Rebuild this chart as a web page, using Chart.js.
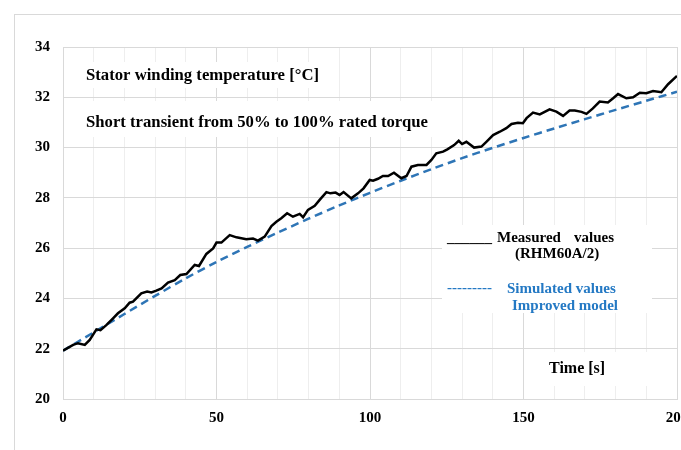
<!DOCTYPE html>
<html>
<head>
<meta charset="utf-8">
<script src="https://cdn.jsdelivr.net/npm/chart.js@4.4.1/dist/chart.umd.min.js"></script>
<style>
  html, body { margin: 0; padding: 0; background: #fff; }
  canvas { display: block; }
</style>
</head>
<body>
<canvas id="statorChart" width="681" height="450"></canvas>
<script>
// measured stator winding temperature (black line)
const measuredTime = [
  0, 3.3, 4.9, 7.1, 8.7, 10.9, 12.2, 14.1, 16.3, 17.9, 20.1, 21.7, 22.8, 25.5, 27.4, 28.8,
  30.4, 32.1, 34.2, 36.4, 38.2, 40.2, 42.9, 44.3, 46.7, 48.9, 50, 51.6, 54.3, 56.5, 59.7,
  61.9, 63.5, 65.7, 67.9, 69.5, 71.1, 73, 74.9, 77.1, 78.2, 79.8, 82, 83.6, 85.8, 87.1,
  88.8, 90.1, 91.4, 93.9, 96.1, 97.9, 99.9, 101, 102.6, 104.2, 105.9, 107.8, 110.2, 111.9,
  113.5, 115.6, 118.4, 120, 121.6, 123.8, 125.2, 127.4, 128.9, 130, 131.4, 133.9, 136.3,
  137.9, 140.1, 142.3, 144.4, 146.1, 148.2, 149.8, 151, 153.1, 155.3, 158.5, 160.7, 162.9,
  165, 166.7, 168.9, 170.5, 172.6, 174.8, 177.5, 179.2, 180.8, 183.5, 185.7, 187.9, 190,
  192.2, 194.9, 197.1, 200
];
const measuredTemp = [
  21.92, 22.15, 22.22, 22.15, 22.35, 22.77, 22.74, 22.94, 23.21, 23.41, 23.61, 23.83, 23.87, 24.2, 24.27, 24.24,
  24.31, 24.4, 24.63, 24.73, 24.93, 24.97, 25.33, 25.29, 25.77, 25.99, 26.22, 26.22, 26.52, 26.43, 26.35,
  26.38, 26.3, 26.46, 26.88, 27.05, 27.19, 27.39, 27.25, 27.36, 27.23, 27.52, 27.68, 27.92, 28.23, 28.18,
  28.21, 28.11, 28.23, 27.98, 28.18, 28.38, 28.71, 28.68, 28.76, 28.87, 28.87, 29.0, 28.78, 28.87,
  29.24, 29.31, 29.31, 29.51, 29.77, 29.84, 29.93, 30.1, 30.27, 30.14, 30.23, 30.0, 30.04,
  30.23, 30.5, 30.63, 30.77, 30.94, 30.99, 30.97, 31.17, 31.39, 31.32, 31.52, 31.43, 31.26,
  31.47, 31.47, 31.42, 31.34, 31.56, 31.83, 31.79, 31.96, 32.13, 31.96, 32.0, 32.18, 32.16,
  32.25, 32.2, 32.52, 32.85
];

// simulated values, improved model (blue dashed line)
const simTime = [0, 10, 20, 30, 40, 50, 60, 70, 80, 90, 100, 110, 120, 130, 140, 150, 160, 170, 180, 190, 200];
const simTemp = [
  21.92, 22.65, 23.38, 24.1, 24.8, 25.45, 26.05, 26.62, 27.17, 27.7, 28.2,
  28.68, 29.14, 29.58, 29.99, 30.38, 30.76, 31.13, 31.5, 31.86, 32.22
];

const SERIF = '"Liberation Serif", "Times New Roman", serif';
const BLUE_LINE = '#2e75b6';
const BLUE_TEXT = '#2479c4';

function toPoints(xs, ys) {
  return xs.map((x, i) => ({ x: x, y: ys[i] }));
}

// white boxes + texts drawn inside the plot (cover the gridlines, under the lines)
const annotationPlugin = {
  id: 'annotations',
  beforeDraw(chart) {
    const ctx = chart.ctx;
    ctx.save();
    ctx.fillStyle = '#fff';
    ctx.fillRect(0, 0, chart.width, chart.height);
    // outer frame
    ctx.strokeStyle = '#d9d9d9';
    ctx.lineWidth = 1;
    ctx.strokeRect(14.5, 14.5, 800, 600);
    ctx.restore();
  },
  beforeDatasetsDraw(chart) {
    const ctx = chart.ctx;
    ctx.save();
    ctx.fillStyle = '#fff';
    ctx.fillRect(76, 62, 256, 26);   // title line 1
    ctx.fillRect(76, 101, 366, 36);  // title line 2
    ctx.fillRect(442, 225, 210, 88); // legend
    ctx.fillRect(530, 352, 134, 34); // axis title

    ctx.textBaseline = 'alphabetic';
    ctx.textAlign = 'left';
    ctx.fillStyle = '#000';
    ctx.font = 'bold 16.7px ' + SERIF;
    ctx.fillText('Stator winding temperature [°C]', 86, 80);
    ctx.fillText('Short transient from 50% to 100% rated torque', 86, 127);

    ctx.font = 'bold 15px ' + SERIF;
    ctx.fillText('______', 447, 242);
    ctx.fillText('Measured', 497, 242);
    ctx.fillText('values', 574, 242);
    ctx.fillText('(RHM60A/2)', 515, 257.5);

    ctx.fillStyle = BLUE_TEXT;
    ctx.fillText('---------', 447, 292);
    ctx.fillText('Simulated values', 507, 293);
    ctx.fillText('Improved model', 512, 310);

    ctx.fillStyle = '#000';
    ctx.font = 'bold 16px ' + SERIF;
    ctx.fillText('Time [s]', 549, 373);
    ctx.restore();
  }
};

const statorConfig = {
  type: 'line',
  data: {
    datasets: [
      {
        label: 'Measured values (RHM60A/2)',
        data: toPoints(measuredTime, measuredTemp),
        borderColor: '#000',
        borderWidth: 2.5,
        pointRadius: 0,
        tension: 0,
        fill: false,
      },
      {
        label: 'Simulated values Improved model',
        data: toPoints(simTime, simTemp),
        borderColor: BLUE_LINE,
        borderWidth: 2.5,
        borderDash: [8, 5],
        pointRadius: 0,
        tension: 0.3,
        fill: false,
      },
    ],
  },
  options: {
    responsive: false,
    animation: false,
    layout: { padding: { top: 47, right: 4, left: 0, bottom: 0 } },
    plugins: {
      legend: { display: false },
      title: { display: false },
      tooltip: { enabled: false },
    },
    scales: {
      x: {
        type: 'linear',
        min: 0,
        max: 200,
        border: { color: '#d9d9d9' },
        grid: {
          drawTicks: false,
          color: function (ctx) {
            return ctx.tick && ctx.tick.value % 50 === 0 ? '#d9d9d9' : '#eeeeee';
          },
        },
        ticks: {
          stepSize: 10,
          autoSkip: false,
          maxRotation: 0,
          padding: 10,
          color: '#000',
          font: { family: SERIF, size: 15, weight: 'bold' },
          callback: function (value) {
            return value % 50 === 0 ? value : '';
          },
        },
        afterFit: function (scale) {
          scale.height = 51;
          scale.paddingLeft = 0;
          scale.paddingRight = 0;
        },
      },
      y: {
        min: 20,
        max: 34,
        border: { color: '#d9d9d9' },
        grid: { drawTicks: false, color: '#d9d9d9' },
        ticks: {
          stepSize: 2,
          padding: 13,
          color: '#000',
          font: { family: SERIF, size: 15, weight: 'bold' },
        },
        afterFit: function (scale) {
          scale.width = 63;
        },
      },
    },
  },
  plugins: [annotationPlugin],
};

const statorChart = new Chart(document.getElementById('statorChart'), statorConfig);
</script>
</body>
</html>
